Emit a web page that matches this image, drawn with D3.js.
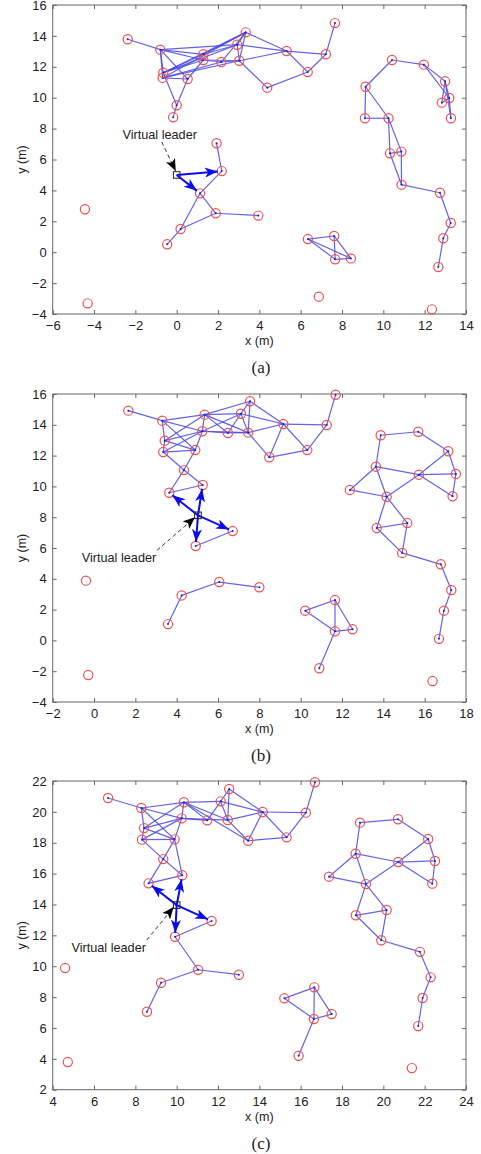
<!DOCTYPE html>
<html>
<head>
<meta charset="utf-8">
<script src="https://cdnjs.cloudflare.com/ajax/libs/d3/7.8.5/d3.min.js"></script>
<style>
  body { margin: 0; background: #fff; }
  text { font-family: "Liberation Sans", Arial, sans-serif; fill: #222; }
  .caption { font-family: "Liberation Serif", "Times New Roman", serif; }
</style>
</head>
<body>
<div id="chart"></div>
<script>
// ---- panel (a) ----
var nodesA = [
  [-2.37,13.78],[-0.79,13.11],[-0.65,11.62],[-0.68,11.28],[0.53,11.21],[0.0,9.51],[-0.17,8.73],
  [1.29,12.81],[1.29,12.44],[2.16,12.31],[3.03,12.39],[2.93,13.43],[3.34,14.23],[5.32,13.02],
  [6.34,11.66],[4.38,10.65],[7.22,12.81],[7.66,14.83],
  [10.42,12.44],[11.96,12.14],[12.99,11.06],[13.19,9.98],[12.83,9.68],[13.27,8.67],[9.14,10.71],
  [9.11,8.67],[10.25,8.67],[10.32,6.40],[10.87,6.51],[10.88,4.37],[12.74,3.85],[13.26,1.89],
  [12.90,0.90],[12.66,-0.96],
  [2.18,5.25],[1.93,7.05],[1.13,3.81],[1.89,2.52],[3.95,2.37],[0.19,1.50],[-0.46,0.51],
  [6.35,0.85],[7.62,1.05],[7.67,-0.46],[8.43,-0.40],
  [-4.44,2.78],[-4.31,-3.31],[6.88,-2.88],[12.35,-3.70]
];
var edgesA = [
  [0,1],[1,2],[1,3],[1,4],[1,7],[1,11],[1,8],[2,3],[2,5],[2,7],[2,8],[2,11],[2,12],
  [3,4],[3,9],[3,12],[3,10],[4,5],[5,6],[4,8],[7,11],[7,12],[8,9],[8,10],[9,10],[9,12],
  [10,11],[10,12],[11,12],[12,13],[11,13],[10,13],[10,15],[13,14],[13,16],[14,16],[16,17],[15,14],
  [18,19],[18,24],[19,20],[19,21],[20,21],[20,23],[20,22],[21,23],[22,21],
  [24,25],[24,26],[25,26],[26,27],[26,28],[27,28],[27,29],[28,29],[29,30],[30,31],[31,32],[32,33],
  [35,34],[34,36],[36,37],[36,39],[37,39],[37,38],[39,40],
  [41,42],[41,43],[41,44],[42,43],[42,44],[43,44]
];
var arrowsA = [34, 36];
var leaderA = [0.0, 5.0];
var xTicksA = [-6,-4,-2,0,2,4,6,8,10,12,14];
var yTicksA = [-4,-2,0,2,4,6,8,10,12,14,16];

// ---- panel (b) ----
var nodesB = [
  [1.66,14.92],[3.30,14.27],[3.42,12.97],[3.35,12.23],[4.35,11.06],[4.90,12.36],[5.24,13.58],
  [5.35,14.66],[6.48,13.47],[7.11,14.72],[7.55,15.53],[7.46,13.49],[9.16,14.05],[8.48,11.89],
  [10.32,12.36],[11.26,13.99],[11.69,15.95],[5.26,10.09],[3.64,9.59],[6.71,7.10],[4.92,6.13],
  [13.87,13.32],[15.69,13.55],[17.14,12.28],[17.51,10.81],[17.35,9.36],[15.72,10.76],[13.64,11.28],
  [12.38,9.77],[14.16,9.33],[15.16,7.62],[13.68,7.30],[14.91,5.68],[16.78,4.94],[17.29,3.27],
  [16.93,1.93],[16.69,0.10],
  [10.22,1.93],[11.66,2.62],[11.66,0.59],[12.51,0.72],[10.90,-1.81],
  [3.58,1.06],[4.24,2.92],[6.06,3.79],[8.00,3.45],
  [-0.39,3.88],[-0.28,-2.25],[16.38,-2.64]
];
var edgesB = [
  [0,1],[1,2],[1,5],[1,6],[1,7],[2,3],[2,5],[2,6],[2,7],[3,5],[3,6],[3,4],[4,5],[4,17],[4,18],
  [5,6],[6,7],[6,8],[6,9],[6,11],[7,8],[7,9],[7,11],[8,9],[8,11],[9,10],[9,11],[10,11],[7,10],
  [10,12],[9,12],[11,12],[11,13],[12,13],[12,14],[12,15],[13,14],[14,15],[15,16],[17,18],[19,20],
  [21,22],[21,27],[22,23],[23,26],[23,24],[24,25],[24,26],[25,26],[26,27],[26,29],[27,28],[27,29],
  [28,29],[29,30],[29,31],[30,31],[31,32],[30,32],[32,33],[33,34],[34,35],[35,36],
  [37,38],[37,39],[38,39],[38,40],[39,40],[39,41],
  [42,43],[43,44],[44,45]
];
var arrowsB = [18, 17, 19, 20];
var leaderB = [5.03, 8.12];
var xTicksB = [-2,0,2,4,6,8,10,12,14,16,18];
var yTicksB = [-4,-2,0,2,4,6,8,10,12,14,16];

// ---- panel (c) ----
var nodesC = [
  [6.68,20.90],[8.29,20.25],[8.42,18.95],[8.32,18.20],[9.90,18.22],[9.35,16.94],[10.24,19.58],
  [10.35,20.62],[11.48,19.45],[12.13,20.68],[12.54,21.48],[12.47,19.47],[13.46,18.13],[14.16,19.99],
  [15.32,18.35],[16.25,19.95],[16.69,21.92],[10.27,15.89],[8.64,15.37],[11.69,12.93],[9.92,11.91],
  [11.04,9.77],[13.01,9.45],[9.24,8.93],[8.56,7.05],
  [18.87,19.30],[20.71,19.52],[22.17,18.24],[22.50,16.82],[22.37,15.35],[20.72,16.75],[18.66,17.29],
  [17.37,15.80],[19.16,15.32],[20.16,13.64],[18.67,13.30],[19.90,11.68],[21.77,10.93],[22.29,9.28],
  [21.90,7.94],[21.69,6.12],
  [15.21,7.92],[16.66,8.63],[16.64,6.58],[17.50,6.90],[15.90,4.20],
  [4.60,9.88],[4.73,3.79],[21.38,3.40]
];
var edgesC = [
  [0,1],[1,2],[1,7],[1,6],[1,4],[2,3],[2,6],[2,7],[2,4],[3,4],[3,6],[3,5],[4,5],[4,6],[4,17],
  [5,17],[5,18],[17,18],[6,7],[6,8],[6,11],[7,8],[7,9],[7,11],[7,12],[8,9],[9,10],[9,11],[10,11],
  [10,13],[11,13],[9,13],[11,12],[12,13],[13,14],[13,15],[12,14],[14,15],[15,16],
  [19,20],[20,21],[21,22],[21,23],[23,24],
  [25,26],[25,31],[26,27],[27,30],[27,28],[28,29],[28,30],[29,30],[30,31],[30,33],[31,32],[31,33],
  [32,33],[33,34],[33,35],[34,35],[34,36],[35,36],[36,37],[37,38],[38,39],[39,40],
  [41,42],[41,43],[42,43],[42,44],[43,44],[43,45]
];
var arrowsC = [18, 17, 19, 20];
var leaderC = [10.0, 13.96];
var xTicksC = [4,6,8,10,12,14,16,18,20,22,24];
var yTicksC = [2,4,6,8,10,12,14,16,18,20,22];

var captions = ["(a)", "(b)", "(c)"];

var W = 481, H = 1154;
var plotL = 52.7, plotR = 466;

var panels = [
  { nodes: nodesA, edges: edgesA, arrows: arrowsA, leader: leaderA, xt: xTicksA, yt: yTicksA,
    top: 5, bottom: 314, label: [-17, -40], lineFrom: [-15, -33], lineTo: [-1, -4] },
  { nodes: nodesB, edges: edgesB, arrows: arrowsB, leader: leaderB, xt: xTicksB, yt: yTicksB,
    top: 394, bottom: 702, label: [-79, 42], lineFrom: [-41, 35], lineTo: [-3, 2] },
  { nodes: nodesC, edges: edgesC, arrows: arrowsC, leader: leaderC, xt: xTicksC, yt: yTicksC,
    top: 781, bottom: 1089.7, label: [-68, 42], lineFrom: [-30, 35], lineTo: [-3, 2] }
];

var svg = d3.select("#chart").append("svg")
  .attr("width", W).attr("height", H);

var defs = svg.append("defs");
defs.append("marker").attr("id", "blueHead")
  .attr("viewBox", "0 -5 13 10").attr("refX", 13).attr("refY", 0)
  .attr("markerUnits", "userSpaceOnUse")
  .attr("markerWidth", 13).attr("markerHeight", 10)
  .attr("orient", "auto")
  .append("path").attr("d", "M0,-5L13,0L0,5L3.5,0Z").attr("fill", "#0a0af0");
defs.append("marker").attr("id", "blackHead")
  .attr("viewBox", "0 -5 12 10").attr("refX", 12).attr("refY", 0)
  .attr("markerUnits", "userSpaceOnUse")
  .attr("markerWidth", 12).attr("markerHeight", 10)
  .attr("orient", "auto")
  .append("path").attr("d", "M0,-5L12,0L0,5L3,0Z").attr("fill", "#000");

panels.forEach(function (p, pi) {
  var x = d3.scaleLinear().domain([p.xt[0], p.xt[p.xt.length - 1]]).range([plotL, plotR]);
  var y = d3.scaleLinear().domain([p.yt[0], p.yt[p.yt.length - 1]]).range([p.bottom, p.top]);
  var g = svg.append("g");

  // axes with inward ticks
  var axB = g.append("g").attr("transform", "translate(0," + p.bottom + ")")
    .call(d3.axisBottom(x).tickValues(p.xt).tickSize(-4).tickSizeOuter(0).tickPadding(7));
  var axL = g.append("g").attr("transform", "translate(" + plotL + ",0)")
    .call(d3.axisLeft(y).tickValues(p.yt).tickSize(-4).tickSizeOuter(0).tickPadding(6));
  var axT = g.append("g").attr("transform", "translate(0," + p.top + ")")
    .call(d3.axisTop(x).tickValues(p.xt).tickSize(-4).tickSizeOuter(0).tickFormat(""));
  var axR = g.append("g").attr("transform", "translate(" + plotR + ",0)")
    .call(d3.axisRight(y).tickValues(p.yt).tickSize(-4).tickSizeOuter(0).tickFormat(""));
  [axB, axL, axT, axR].forEach(function (a) {
    a.select(".domain").remove();
    a.selectAll("line").attr("stroke", "#666");
    a.selectAll("text").style("font-size", "13px").attr("fill", "#222");
  });
  g.append("rect").attr("x", plotL).attr("y", p.top)
    .attr("width", plotR - plotL).attr("height", p.bottom - p.top)
    .attr("fill", "none").attr("stroke", "#666").attr("stroke-width", 1);

  g.append("text").attr("x", (plotL + plotR) / 2).attr("y", p.bottom + 31)
    .attr("text-anchor", "middle").style("font-size", "12.5px").text("x (m)");
  g.append("text")
    .attr("transform", "translate(26," + (p.top + p.bottom) / 2 + ") rotate(-90)")
    .attr("text-anchor", "middle").style("font-size", "12.5px").text("y (m)");
  g.append("text").attr("class", "caption")
    .attr("x", 261).attr("y", p.bottom + 59)
    .attr("text-anchor", "middle").style("font-size", "17px").text(captions[pi]);

  // edges
  g.append("g").selectAll("line").data(p.edges).enter().append("line")
    .attr("x1", function (d) { return x(p.nodes[d[0]][0]); })
    .attr("y1", function (d) { return y(p.nodes[d[0]][1]); })
    .attr("x2", function (d) { return x(p.nodes[d[1]][0]); })
    .attr("y2", function (d) { return y(p.nodes[d[1]][1]); })
    .attr("stroke", "#4848e4").attr("stroke-width", 1.2).attr("stroke-opacity", 0.85);

  // little centre dots on linked nodes
  var linked = {};
  p.edges.forEach(function (e) { linked[e[0]] = 1; linked[e[1]] = 1; });
  g.append("g").selectAll("circle").data(p.nodes.filter(function (d, i) { return linked[i]; }))
    .enter().append("circle")
    .attr("cx", function (d) { return x(d[0]); })
    .attr("cy", function (d) { return y(d[1]); })
    .attr("r", 1).attr("fill", "#2020b0");

  // nodes
  g.append("g").selectAll("circle").data(p.nodes).enter().append("circle")
    .attr("cx", function (d) { return x(d[0]); })
    .attr("cy", function (d) { return y(d[1]); })
    .attr("r", 4.6).attr("fill", "none")
    .attr("stroke", "#f05050").attr("stroke-width", 1.2);

  // virtual leader arrows
  var lx = x(p.leader[0]), ly = y(p.leader[1]);
  g.append("g").selectAll("line").data(p.arrows).enter().append("line")
    .attr("x1", lx).attr("y1", ly)
    .attr("x2", function (k) {
      var tx = x(p.nodes[k][0]), ty = y(p.nodes[k][1]);
      var L = Math.hypot(tx - lx, ty - ly);
      return tx - (tx - lx) / L * 4;
    })
    .attr("y2", function (k) {
      var tx = x(p.nodes[k][0]), ty = y(p.nodes[k][1]);
      var L = Math.hypot(tx - lx, ty - ly);
      return ty - (ty - ly) / L * 4;
    })
    .attr("stroke", "#0a0af0").attr("stroke-width", 2)
    .attr("marker-end", "url(#blueHead)");

  g.append("rect").attr("x", lx - 3.3).attr("y", ly - 3.3)
    .attr("width", 6.6).attr("height", 6.6)
    .attr("fill", "none").attr("stroke", "#222").attr("stroke-width", 1);

  // label + dashed pointer
  g.append("line")
    .attr("x1", lx + p.lineFrom[0]).attr("y1", ly + p.lineFrom[1])
    .attr("x2", lx + p.lineTo[0]).attr("y2", ly + p.lineTo[1])
    .attr("stroke", "#333").attr("stroke-width", 1)
    .attr("stroke-dasharray", "4,3")
    .attr("marker-end", "url(#blackHead)");
  g.append("text").attr("x", lx + p.label[0]).attr("y", ly + p.label[1])
    .attr("dy", "0.35em").attr("text-anchor", "middle")
    .style("font-size", "12.7px").text("Virtual leader");
});
</script>
</body>
</html>
